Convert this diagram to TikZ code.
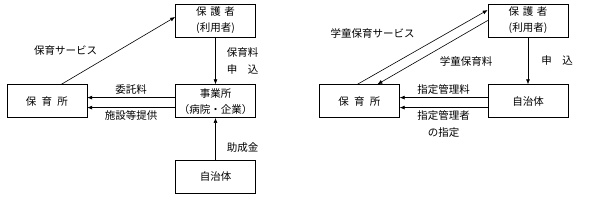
\documentclass[tikz,border=0pt]{standalone}
\usepackage{fontspec}
\setmainfont{Noto Sans CJK JP}
\usetikzlibrary{arrows.meta, positioning}

\begin{document}
\begin{tikzpicture}[
    x=1pt, y=-1pt,
    box/.style={rectangle, draw, line width=0.6pt, minimum width=80pt, minimum height=33pt,
                inner sep=1pt, align=center, font=\fontsize{10.5}{16}\selectfont},
    arrow/.style={-{Latex[length=5pt, width=4pt]}, line width=0.6pt},
    lbl/.style={inner sep=1pt, align=center, font=\fontsize{10.5}{17}\selectfont}
]
    \useasboundingbox (0,0) rectangle (594,201);
    % left
    \node[box] (hogo) at (215.5,20.5) {保\hspace{0.35em}護\hspace{0.35em}者\\(利用者)};
    \node[box, below=47pt of hogo] (jigyo) {事業所\\（病院・企業）};
    \node[box, left=88pt of jigyo] (hoiku) {保\hspace{0.5em}育\hspace{0.5em}所};
    \node[box, below=42pt of jigyo] (jichi) {自治体};
    \draw[arrow] ([xshift=14.5pt]hoiku.north) -- node[lbl, pos=0.5, left=20pt] {保育サービス} ([yshift=3.5pt]hogo.west);
    \draw[arrow] (hogo) -- node[lbl, midway, right=10pt] {保育料\\申\hspace{1em}込} (jigyo);
    \draw[arrow] ([yshift=3.5pt]jigyo.west) -- node[lbl, midway, above=2pt] {委託料} ([yshift=3.5pt]hoiku.east);
    \draw[arrow] ([yshift=-6.5pt]jigyo.west) -- node[lbl, midway, below=2pt] {施設等提供} ([yshift=-6.5pt]hoiku.east);
    \draw[arrow] (jichi) -- node[lbl, pos=0.3, right=10pt] {助成金} (jigyo);
    % right
    \node[box] (hogo2) at (528,20.5) {保\hspace{0.35em}護\hspace{0.35em}者\\(利用者)};
    \node[box, below=47pt of hogo2] (jichi2) {自治体};
    \node[box, left=88pt of jichi2] (hoiku2) {保\hspace{0.5em}育\hspace{0.5em}所};
    \draw[arrow] ([xshift=-2pt]hoiku2.north) -- node[lbl, pos=0.68, left=30pt] {学童保育サービス} ([yshift=10.5pt]hogo2.west);
    \draw[arrow] (hogo2.west) -- node[lbl, pos=0.645, right=22pt] {学童保育料} ([xshift=18pt]hoiku2.north);
    \draw[arrow] (hogo2) -- node[lbl, midway, right=12pt] {申\hspace{1em}込} (jichi2);
    \draw[arrow] ([yshift=3.5pt]jichi2.west) -- node[lbl, midway, above=2pt] {指定管理料} ([yshift=3.5pt]hoiku2.east);
    \draw[arrow] ([yshift=-6.5pt]jichi2.west) -- node[lbl, midway, below=2pt] {指定管理者\\の指定} ([yshift=-6.5pt]hoiku2.east);
\end{tikzpicture}
\end{document}
